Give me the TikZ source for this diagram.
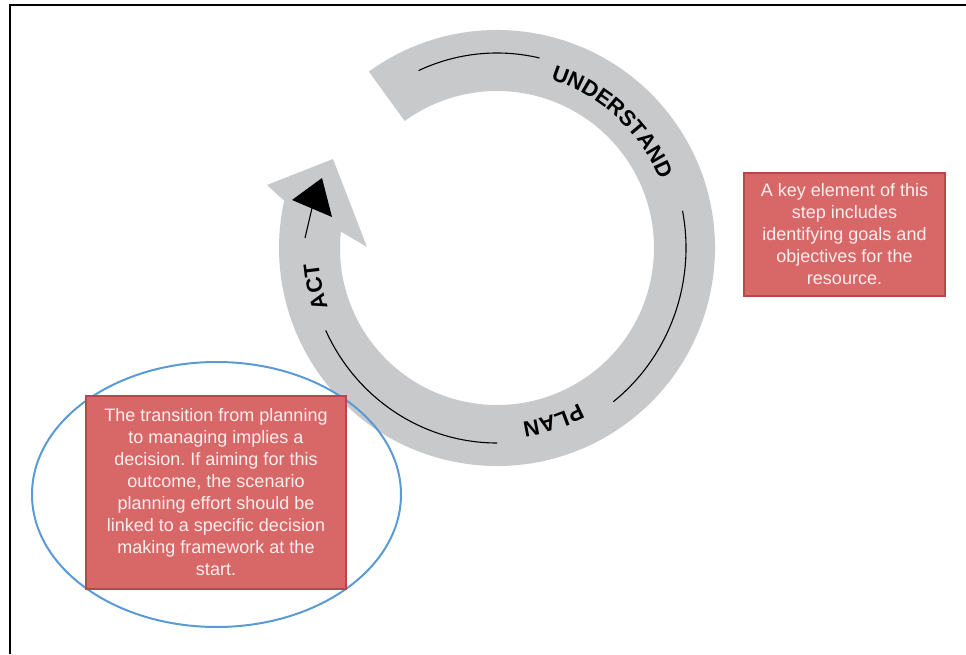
\documentclass[tikz,border=0pt]{standalone}
\usepackage{fontspec}
\setmainfont{Liberation Sans}
\usetikzlibrary{decorations.text,shapes.geometric,calc}

\definecolor{ringgray}{RGB}{200,201,203}
\definecolor{notefill}{RGB}{216,103,104}
\definecolor{noteedge}{RGB}{185,70,72}
\definecolor{notetext}{RGB}{250,238,238}
\definecolor{focusblue}{RGB}{91,155,213}

\newcommand{\ringfont}{\fontsize{22}{26}\selectfont\bfseries}
\frenchspacing

\begin{document}
\begin{tikzpicture}[x=1pt,y=1pt,
  notebox/.style={draw=noteedge, line width=1.2pt, fill=notefill, text=notetext,
    font=\fontsize{18}{22}\selectfont, align=center, inner sep=0pt},
  guide/.style={line width=1.1pt, black},
  ringlabel/.style={decorate, decoration={text along path, text align=center, text={#1}}}]

\useasboundingbox (0,0) rectangle (966,654);

% outer frame (top and left edges)
\draw[line width=1.8pt] (10,0) -- (10,649) -- (966,649);

\coordinate (ctr) at (497,406);

% grey cycle arrow: ring running clockwise, ending in a wide arrowhead
\coordinate (headL) at (267,469);
\coordinate (headTip) at (333,495);
\coordinate (headR) at (367,407);
\fill[ringgray] ($(ctr)+(126:218)$)
  arc[start angle=126, end angle=-192.5, radius=218]
  -- (headL) -- (headTip) -- (headR)
  -- ($(ctr)+(174:157)$)
  arc[start angle=-186, end angle=126, radius=157] -- cycle;

% thin guide line inside the ring, broken by the labels
\draw[guide] ($(ctr)+(114.5:189 and 195)$) arc[start angle=114.5, end angle=77, x radius=189, y radius=195];
\draw[guide] ($(ctr)+(11:189 and 195)$) arc[start angle=11, end angle=-52, x radius=189, y radius=195];
\draw[guide] ($(ctr)+(-90:189 and 195)$) arc[start angle=-90, end angle=-155, x radius=189, y radius=195];

% final stretch with its black tip
\coordinate (actFrom) at (305,416);
\coordinate (actTo) at (312,446);
\draw[guide] (actFrom) -- (actTo);
\fill (292,454) -- (322,476) -- (332,437) -- cycle;

% stage labels following the ring
\path[ringlabel={|\ringfont|UNDERSTAND}] ($(ctr)+(94:177)$) arc[start angle=94, end angle=1, radius=177];
\path[ringlabel={|\ringfont|PLAN}] ($(ctr)+(-42:176)$) arc[start angle=-42, end angle=-102, radius=176];
\path[ringlabel={|\ringfont|ACT}] ($(ctr)+(222:179)$) arc[start angle=222, end angle=162, radius=179];

% highlight around the decision note
\node[draw=focusblue, line width=2pt, ellipse, minimum width=369pt, minimum height=265pt, inner sep=0pt] (focus) at (216.5,159.5) {};

% explanatory notes
\node[notebox, minimum width=201pt, minimum height=123pt] (goalnote) at (844.5,419.5)
  {A key element of this\\ step includes\\ identifying goals and\\ objectives for the\\ resource.};
\node[notebox, minimum width=260pt, minimum height=193pt] (decisionnote) at (216,161.5)
  {The transition from planning\\ to managing implies a\\ decision. If aiming for this\\ outcome, the scenario\\ planning effort should be\\ linked to a specific decision\\ making framework at the\\ start.};

\end{tikzpicture}
\end{document}
